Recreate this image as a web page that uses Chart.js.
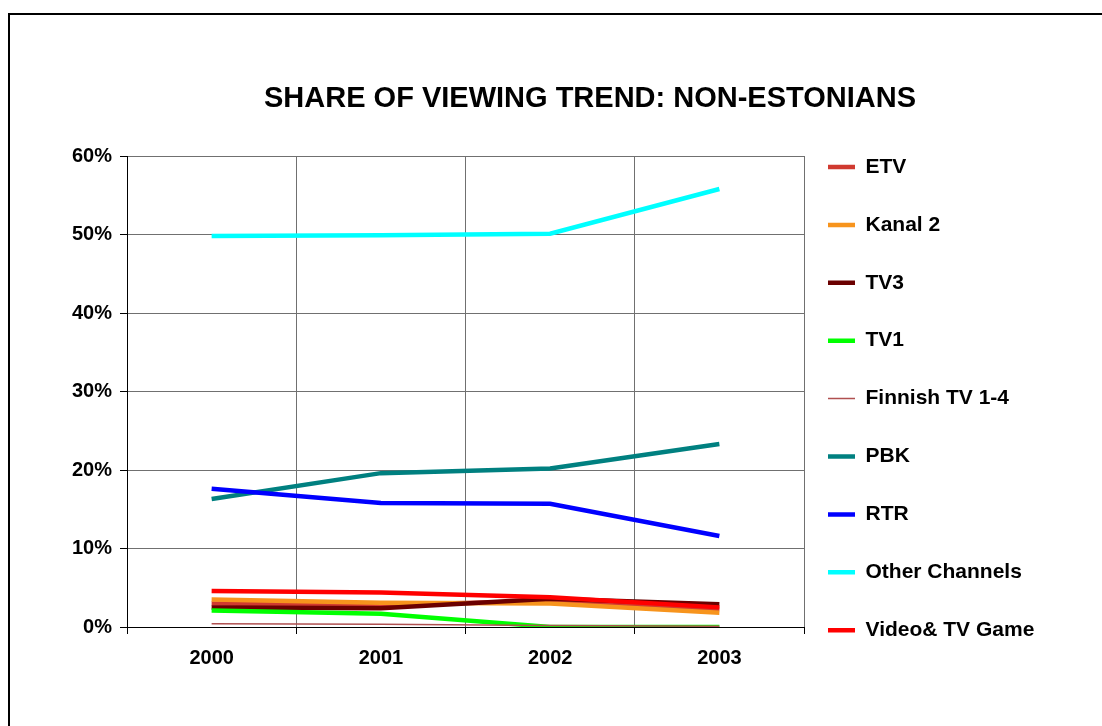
<!DOCTYPE html>
<html><head><meta charset="utf-8">
<script src="https://cdn.jsdelivr.net/npm/chart.js@4"></script>
<style>
html,body{margin:0;padding:0;background:#fff;overflow:hidden;width:1102px;height:726px;}
#frame{position:absolute;left:8px;top:13px;width:1200px;height:800px;border-left:2px solid #000;border-top:2px solid #000;}
#wrap{position:absolute;left:0;top:0;width:1102px;height:726px;}
</style></head><body>
<div id="frame"></div>
<div id="wrap"><canvas id="c" width="1102" height="726"></canvas></div>
<script>
// ---- data ----
const years = ['2000', '2001', '2002', '2003'];
const yTickLabels = ['0%', '10%', '20%', '30%', '40%', '50%', '60%'];
const seriesNames = ['ETV', 'Kanal 2', 'TV3', 'TV1', 'Finnish TV 1-4', 'PBK', 'RTR', 'Other Channels', 'Video& TV Game'];
const etv      = [3.0, 2.8, 3.3, 2.3];
const kanal2   = [3.5, 3.1, 3.0, 1.8];
const tv3      = [2.5, 2.4, 3.6, 2.9];
const tv1      = [2.1, 1.7, 0.0, 0.0];
const finnish  = [0.4, 0.35, 0.2, 0.1];
const pbk      = [16.3, 19.6, 20.2, 23.3];
const rtr      = [17.6, 15.8, 15.7, 11.6];
const other    = [49.8, 49.9, 50.1, 55.8];
const video    = [4.6, 4.4, 3.8, 2.5];

// ---- styles ----
const FONT = "'Liberation Sans', Arial, Helvetica, sans-serif";
const seriesValues = [etv, kanal2, tv3, tv1, finnish, pbk, rtr, other, video];
const seriesColors = ['#d03a30', '#f7941d', '#6b0000', '#00ff00', '#b05050', '#008080', '#0000ff', '#00ffff', '#ff0000'];
const seriesWidths = [4.5, 4.5, 4.5, 4.5, 1.5, 4.5, 4.5, 4.5, 4.5];

const datasets = seriesNames.map((name, i) => ({
  label: name,
  data: seriesValues[i],
  borderColor: seriesColors[i],
  backgroundColor: seriesColors[i],
  borderWidth: seriesWidths[i],
  pointRadius: 0,
  pointHoverRadius: 0,
  tension: 0,
  fill: false,
  order: seriesNames.length - i
}));

const placer = {
  id: 'placer',
  afterLayout(chart) {
    const lg = chart.legend, area = chart.chartArea;
    const pad = lg.options.labels.padding;
    lg.left = area.right + 24 - pad;
    lg.right = chart.width;
    lg.width = lg.right - lg.left;
    lg.top = area.top + 0.5 - pad;
    lg.height = lg.bottom - lg.top;
    const tb = chart.titleBlock;
    const dx = 590 - (tb.left + tb.right) / 2;
    tb.left += dx; tb.right += dx;
  }
};

new Chart(document.getElementById('c'), {
  type: 'line',
  data: { labels: years, datasets },
  plugins: [placer],
  options: {
    responsive: false,
    animation: false,
    devicePixelRatio: 1,
    layout: { padding: { left: 0, right: 98, top: 0, bottom: 0 } },
    plugins: {
      tooltip: { enabled: false },
      title: {
        display: true,
        text: 'SHARE OF VIEWING TREND: NON-ESTONIANS',
        color: '#000',
        font: { family: FONT, size: 29, weight: 'bold', lineHeight: 1.2 },
        padding: { top: 82, bottom: 39.2 }
      },
      legend: {
        position: 'right',
        align: 'start',
        reverse: true,
        maxWidth: 200,
        labels: {
          color: '#000',
          font: { family: FONT, size: 21, weight: 'bold' },
          padding: 36.9,
          usePointStyle: true,
          pointStyle: 'line',
          pointStyleWidth: 27
        }
      }
    },
    scales: {
      x: {
        offset: true,
        grid: { display: true, offset: true, color: '#707070', lineWidth: 1, tickLength: 7, tickColor: '#000', drawTicks: true },
        border: { display: true, color: '#000', width: 1 },
        ticks: { color: '#000', font: { family: FONT, size: 20, weight: 'bold' }, padding: 12, maxRotation: 0, autoSkip: false },
        afterFit(s) { s.height = 99; }
      },
      y: {
        min: 0, max: 60,
        grid: { color: '#707070', lineWidth: 1, tickLength: 7, tickColor: '#000' },
        border: { display: true, color: '#000', width: 1 },
        ticks: {
          stepSize: 10,
          color: '#000',
          font: { family: FONT, size: 20, weight: 'bold' },
          padding: 8,
          callback: (v, i) => yTickLabels[i]
        },
        afterFit(s) { s.width = 127; }
      }
    }
  }
});
</script>
</body></html>
